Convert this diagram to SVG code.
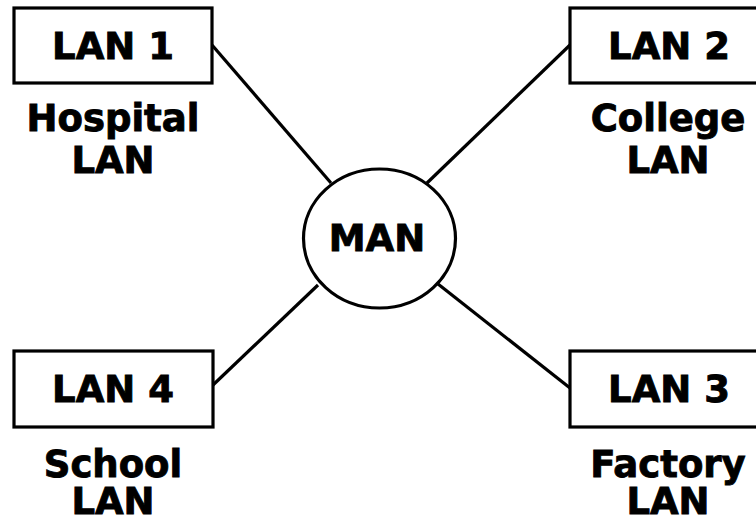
<svg xmlns="http://www.w3.org/2000/svg" width="756" height="521" viewBox="0 0 756 521">
  <style>
    .box { fill: #fff; stroke: #000; stroke-width: 3.2; }
    .hub { fill: #fff; stroke: #000; stroke-width: 3.2; }
    .link { stroke: #000; stroke-width: 3.2; fill: none; }
    text { font-family: "DejaVu Sans", Verdana, sans-serif; font-weight: bold; font-size: 37px; fill: #000; stroke: #000; stroke-width: 0.9; text-anchor: middle; }
  </style>
  <rect width="756" height="521" fill="#fff"/>
  <g id="connectors">
    <line class="link" x1="212" y1="45" x2="331" y2="183"/>
    <line class="link" x1="570" y1="45" x2="427" y2="183"/>
    <line class="link" x1="213" y1="385" x2="318" y2="285"/>
    <line class="link" x1="570" y1="388" x2="438" y2="284"/>
  </g>
  <g id="man">
    <ellipse class="hub" cx="379.5" cy="238.5" rx="76" ry="69.5"/>
    <text x="377" y="251">MAN</text>
  </g>
  <g id="lan1">
    <rect class="box" x="14" y="8" width="198" height="75"/>
    <text x="113" y="59">LAN 1</text>
    <text x="113" y="131">Hospital</text>
    <text x="113" y="173">LAN</text>
  </g>
  <g id="lan2">
    <rect class="box" x="570" y="8" width="198" height="75"/>
    <text x="669" y="59">LAN 2</text>
    <text x="668" y="131">College</text>
    <text x="668" y="173">LAN</text>
  </g>
  <g id="lan4">
    <rect class="box" x="14" y="351" width="199" height="76"/>
    <text x="113" y="402">LAN 4</text>
    <text x="113" y="477">School</text>
    <text x="113" y="514">LAN</text>
  </g>
  <g id="lan3">
    <rect class="box" x="570" y="351" width="198" height="76"/>
    <text x="669" y="402">LAN 3</text>
    <text x="668" y="477">Factory</text>
    <text x="668" y="514">LAN</text>
  </g>
</svg>
